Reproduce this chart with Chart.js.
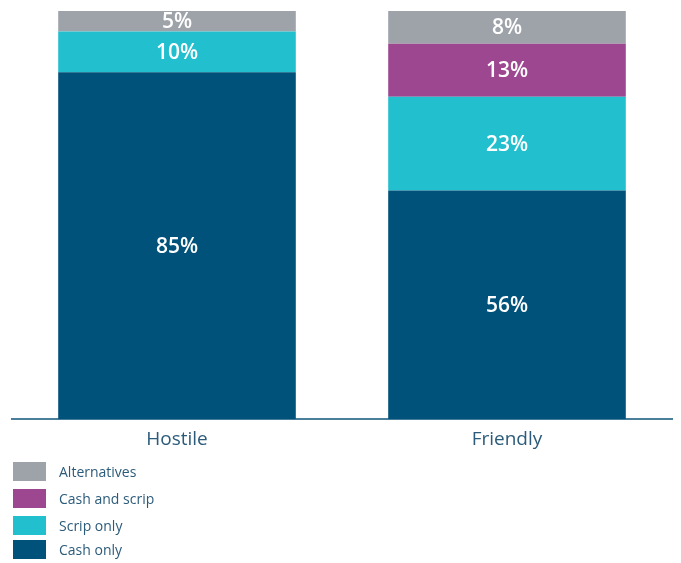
<!DOCTYPE html>
<html>
<head>
<meta charset="utf-8">
<script src="https://cdn.jsdelivr.net/npm/chart.js@4.4.1/dist/chart.umd.min.js"></script>
<style>
  html, body { margin: 0; padding: 0; background: #fff; }
  #wrap { position: relative; width: 681px; height: 563px; }
  #box { position: absolute; left: 0; top: 0; width: 681px; height: 466px; }
  #legend { position: absolute; left: 13px; top: 462px; font-family: "Open Sans", sans-serif; font-size: 14px; color: #2b5b7a; }
  #legend .row { display: flex; align-items: center; height: 19px; margin-bottom: 8px; }
  #legend .row:nth-child(3) { margin-bottom: 5px; }
  #legend .sw { width: 33px; height: 19px; margin-right: 13px; }
</style>
</head>
<body>
<div id="wrap">
  <div id="box"><canvas id="deals"></canvas></div>
  <div id="legend"></div>
</div>
<script>
const categories = ["Hostile", "Friendly"];
const cashOnly = [85, 56];
const scripOnly = [10, 23];
const cashAndScrip = [0, 13];
const alternatives = [5, 8];

const seriesNames = ["Cash only", "Scrip only", "Cash and scrip", "Alternatives"];
const seriesColors = ["#01527a", "#22bfcf", "#9e4791", "#9ea3aa"];
const seriesValues = [cashOnly, scripOnly, cashAndScrip, alternatives];

// white percentage in the middle of each segment
const segmentLabels = {
  id: "segmentLabels",
  afterDatasetsDraw(chart) {
    const ctx = chart.ctx;
    ctx.save();
    ctx.fillStyle = "#ffffff";
    ctx.font = "600 21px 'Open Sans', sans-serif";
    ctx.textAlign = "center";
    ctx.textBaseline = "middle";
    chart.data.datasets.forEach((ds, i) => {
      chart.getDatasetMeta(i).data.forEach((bar, j) => {
        const v = ds.data[j];
        if (!v) return;
        ctx.fillText(v + "%", bar.x, (bar.y + bar.base) / 2 + 1);
      });
    });
    ctx.restore();
  }
};

new Chart(document.getElementById("deals"), {
  type: "bar",
  data: {
    labels: categories,
    datasets: seriesNames.map((name, i) => ({
      label: name,
      data: seriesValues[i],
      backgroundColor: seriesColors[i],
      barPercentage: 0.72,
      categoryPercentage: 1
    }))
  },
  options: {
    responsive: true,
    maintainAspectRatio: false,
    animation: false,
    layout: { padding: { left: 12, right: 9, top: 11, bottom: 6 } },
    plugins: { legend: { display: false }, tooltip: { enabled: false } },
    scales: {
      x: {
        stacked: true,
        grid: { display: false, drawTicks: false },
        border: { display: true, color: "#4a7f9c", width: 2 },
        ticks: { color: "#2b5b7a", padding: 9, font: { family: "'Open Sans', sans-serif", size: 19 } }
      },
      y: {
        stacked: true,
        display: false,
        min: 0,
        max: 100
      }
    }
  },
  plugins: [segmentLabels]
});

// legend list, top series first
const legend = document.getElementById("legend");
for (let i = seriesNames.length - 1; i >= 0; i--) {
  const row = document.createElement("div");
  row.className = "row";
  row.innerHTML = '<div class="sw" style="background:' + seriesColors[i] + '"></div><span>' + seriesNames[i] + "</span>";
  legend.appendChild(row);
}
</script>
</body>
</html>
